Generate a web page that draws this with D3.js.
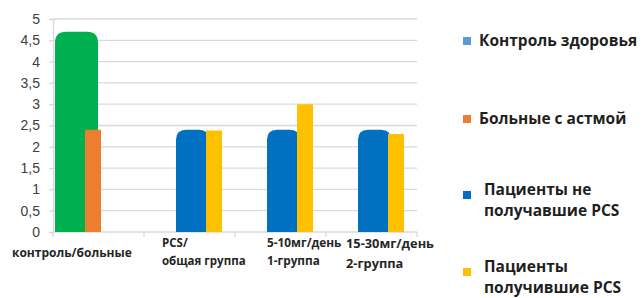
<!DOCTYPE html>
<html>
<head>
<meta charset="utf-8">
<script src="https://cdn.jsdelivr.net/npm/d3@7"></script>
<style>
  body { margin: 0; background: #fff; }
  svg { display: block; font-family: "Open Sans", sans-serif; }
  .axis text { fill: #404040; font-size: 14px; }
  .cat-label { fill: #262626; font-size: 11.5px; font-weight: 700; }
  .legend text { fill: #1f1f1f; font-size: 15.5px; font-weight: 700; }
</style>
</head>
<body>
<svg id="chart"></svg>
<script>
// categories (each label split into its lines)
const categories = ['контроль/больные', 'PCS/ общая группа', '5-10мг/день 1-группа', '15-30мг/день 2-группа'];
const categoryLines = [['контроль/больные'], ['PCS/', 'общая группа'], ['5-10мг/день', '1-группа'], ['15-30мг/день', '2-группа']];

// series
const seriesNames = ['Контроль здоровья', 'Больные с астмой', 'Пациенты не получавшие PCS', 'Пациенты получившие PCS'];
const legendLines = [['Контроль здоровья'], ['Больные с астмой'], ['Пациенты не', 'получавшие PCS'], ['Пациенты', 'получившие PCS']];
const controlValues = [4.7, null, null, null];
const asthmaValues = [2.4, null, null, null];
const noPcsValues = [null, 2.4, 2.4, 2.4];
const pcsValues = [null, 2.38, 3.0, 2.3];

// y axis ticks
const yTicks = [0, 0.5, 1, 1.5, 2, 2.5, 3, 3.5, 4, 4.5, 5];

class BarChart {
  constructor(_config) {
    this.config = {
      parentElement: _config.parentElement,
      containerWidth: _config.containerWidth || 642,
      containerHeight: _config.containerHeight || 298
    };
    this.initVis();
  }

  initVis() {
    let vis = this;

    vis.svg = d3.select(vis.config.parentElement)
        .attr('width', vis.config.containerWidth)
        .attr('height', vis.config.containerHeight);

    vis.yScale = d3.scaleLinear().domain([0, 5]).range([232, 19]);
    vis.xScale = d3.scaleBand().domain(categories).range([53, 417]).padding(0);
    // three slots per category, pairs sit in slots 0-1 or 1-2
    vis.slotScale = d3.scaleBand().domain([0, 1, 2]).range([1, 91]);

    vis.series = [
      { name: seriesNames[0], values: controlValues, color: '#00b050', legendColor: '#5b9bd5', slot: 0, width: 43, round: 11 },
      { name: seriesNames[1], values: asthmaValues, color: '#ed7d31', legendColor: '#ed7d31', slot: 1, width: 16, round: 0 },
      { name: seriesNames[2], values: noPcsValues, color: '#0070c0', legendColor: '#0070c0', slot: 1, width: 33, round: 10 },
      { name: seriesNames[3], values: pcsValues, color: '#ffc000', legendColor: '#ffc000', slot: 2, width: 16, round: 0 }
    ];

    vis.chart = vis.svg.append('g');
    vis.renderVis();
  }

  renderVis() {
    let vis = this;
    const x0 = vis.xScale.range()[0], x1 = vis.xScale.range()[1];

    // gridlines
    vis.chart.append('g')
      .selectAll('line')
      .data(yTicks.filter(d => d > 0))
      .join('line')
        .attr('x1', x0).attr('x2', x1)
        .attr('y1', d => vis.yScale(d)).attr('y2', d => vis.yScale(d))
        .attr('stroke', '#d9d9d9').attr('stroke-width', 1.3);

    // y axis
    const yAxis = d3.axisLeft(vis.yScale).tickValues(yTicks).tickSize(4).tickPadding(9)
        .tickFormat(d => String(d).replace('.', ','));
    vis.chart.append('g')
        .attr('class', 'axis')
        .attr('transform', `translate(${x0},0)`)
        .call(yAxis)
        .call(g => g.selectAll('line, .domain').attr('stroke', '#d9d9d9').attr('stroke-width', 1.3));

    // x axis baseline with category boundary ticks
    const boundaries = categories.map(c => vis.xScale(c)).concat([x1]);
    const xg = vis.chart.append('g');
    xg.append('line')
        .attr('x1', x0).attr('x2', x1)
        .attr('y1', vis.yScale(0)).attr('y2', vis.yScale(0))
        .attr('stroke', '#d9d9d9').attr('stroke-width', 1.3);
    xg.selectAll('.bt')
      .data(boundaries)
      .join('line')
        .attr('x1', d => d).attr('x2', d => d)
        .attr('y1', vis.yScale(0)).attr('y2', vis.yScale(0) + 5)
        .attr('stroke', '#d9d9d9').attr('stroke-width', 1.3);

    // bars
    const barPath = (x, y, w, h, r) => {
      r = Math.min(r, w / 2, h);
      return `M${x},${y + h}V${y + r}Q${x},${y} ${x + r},${y}H${x + w - r}Q${x + w},${y} ${x + w},${y + r}V${y + h}Z`;
    };
    vis.series.forEach(s => {
      vis.chart.append('g')
        .selectAll('path')
        .data(categories.map((c, i) => ({ cat: c, value: s.values[i] })).filter(d => d.value != null))
        .join('path')
          .attr('fill', s.color)
          .attr('d', d => {
            const x = vis.xScale(d.cat) + vis.slotScale(s.slot) + 1;
            const y = vis.yScale(d.value);
            return barPath(x, y, s.width, vis.yScale(0) - y, s.round);
          });
    });

    // category labels (hand placed like the original)
    const labelDx = [-41, 18, 32, 20];
    const labelDy = [[25], [15, 33], [15, 33], [16, 36]];
    const labelSize = [12, 11.5, 11.8, 12.8];
    categoryLines.forEach((lines, i) => {
      const t = vis.chart.append('text')
          .attr('class', 'cat-label')
          .style('font-size', labelSize[i] + 'px')
          .attr('x', vis.xScale(categories[i]) + labelDx[i]);
      lines.forEach((ln, j) => {
        t.append('tspan')
          .attr('x', vis.xScale(categories[i]) + labelDx[i])
          .attr('y', vis.yScale(0) + labelDy[i][j])
          .text(ln);
      });
    });

    // legend
    const legendY = [41, 119, 193, 270];
    const legend = vis.svg.append('g').attr('class', 'legend');
    vis.series.forEach((s, i) => {
      const lines = legendLines[i];
      const cy = legendY[i];
      legend.append('rect')
          .attr('x', 463).attr('y', (lines.length > 1 ? cy + 2 : cy) - 4)
          .attr('width', 8).attr('height', 8)
          .attr('fill', s.legendColor);
      const tx = lines.length > 1 ? 484 : 479;
      lines.forEach((ln, j) => {
        legend.append('text')
            .attr('x', tx)
            .attr('y', cy + 5 + j * 21 - (lines.length > 1 ? 3 : 0))
            .text(ln);
      });
    });
  }
}

new BarChart({ parentElement: '#chart' });
</script>
</body>
</html>
